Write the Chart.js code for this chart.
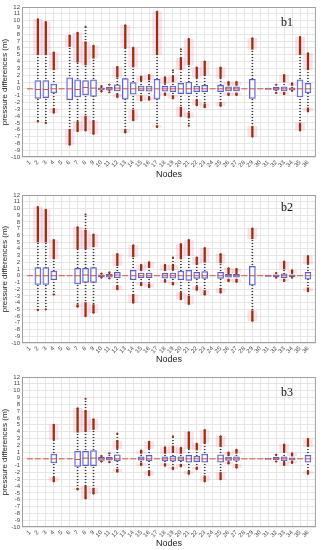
<!DOCTYPE html>
<html>
<head>
<meta charset="utf-8">
<script src="https://cdn.jsdelivr.net/npm/chart.js@4.4.1/dist/chart.umd.min.js"></script>
<style>
  body { margin: 0; background: #fff; }
  #wrap { position: relative; width: 323px; height: 550px; overflow: hidden; }
  .panel { position: absolute; left: 0; width: 323px; }
  .tag { position: absolute; font-family: "Liberation Serif", serif; font-size: 12px; color: #111; }
</style>
</head>
<body>
<div id="wrap">
  <div class="panel" style="top:0;height:180px"><canvas id="c1"></canvas></div>
  <div class="panel" style="top:183px;height:182px"><canvas id="c2"></canvas></div>
  <div class="panel" style="top:365px;height:184px"><canvas id="c3"></canvas></div>
  <div class="tag" style="left:281px;top:15px">b1</div>
  <div class="tag" style="left:281px;top:200px">b2</div>
  <div class="tag" style="left:281px;top:385px">b3</div>
</div>
<script>
// node numbers on the x axis
const nodes = Array.from({ length: 36 }, (_, i) => i + 1);

// panel b1: box quartiles, median, outlier clusters (upper lo/hi, lower hi/lo)
const b1Q1  = [0,-1.4,-1.3,-0.6,0,-1.6,-1.2,-0.9,-1.1,-0.15,-0.2,-0.3,-1.5,-0.8,-0.3,-0.35,-1.5,-0.35,-0.4,-0.7,-0.7,-0.4,-0.4,0,-0.4,-0.3,-0.3,0,-1.4,0,-0.1,-0.2,-0.3,-0.15,-1.2,-0.6];
const b1Med = [0,-0.1,-0.1,0,0,0,-0.1,0.2,0.1,0,0,0.1,0,0,0,0,0,0,0,0,0,0,0,0,0,0,0,0,0,0,0,0,0,0,0,0];
const b1Q3  = [0,1.2,1.2,0.7,0,1.6,1.3,1.2,1.3,0.15,0.2,0.6,1.5,0.9,0.4,0.4,1.4,0.35,0.4,0.8,1.0,0.4,0.5,0,0.5,0.3,0.3,0,1.4,0,0.1,0.2,0.3,0.15,1.3,0.8];
const b1UpLo = [null,5.0,5.0,2.8,null,6.2,3.9,3.5,4.5,0.4,0.6,1.7,6.0,3.2,1.2,1.3,5.0,0.8,1.0,2.8,3.5,1.6,2.0,null,1.6,0.5,0.5,null,5.8,null,null,0.6,1.0,0.5,5.0,2.8];
const b1UpHi = [null,10.2,9.8,5.3,null,7.8,8.2,6.8,6.3,0.4,0.6,3.2,9.3,6.0,1.8,2.0,11.3,1.7,1.8,4.5,7.3,3.1,4.0,null,3.1,1.0,1.0,null,7.4,null,null,0.6,2.0,0.8,7.6,5.2];
const b1DnHi = [null,-4.8,-5.0,-2.9,null,-6.0,-4.8,-4.0,-4.7,-0.4,-0.5,-0.8,-6.0,-3.1,-1.0,-1.2,-5.4,-0.6,-1.0,-2.7,-3.5,-1.6,-2.2,null,-2.0,-0.6,-0.6,null,-5.5,null,null,-0.6,-0.5,-0.3,-5.0,-2.8];
const b1DnLo = [null,-4.8,-5.0,-3.5,null,-8.2,-6.2,-6.1,-6.6,-0.4,-0.5,-1.2,-6.4,-4.6,-1.7,-1.6,-5.6,-0.9,-1.4,-4.0,-4.2,-2.4,-2.7,null,-2.5,-0.9,-0.9,null,-7.0,null,null,-0.6,-0.8,-0.3,-6.1,-3.3];
const b1Extra = [[8, 9.1], [19, 2.7], [20, 5.8], [21, -5.4]];

// panel b2
const b2Q1  = [0,-1.3,-1.3,-0.6,0,0,-1.2,-1.0,-1.0,-0.15,-0.2,-0.3,0,-0.6,-0.3,-0.3,0,-0.35,-0.35,-0.6,-0.7,-0.4,-0.4,0,-0.4,-0.2,-0.2,0,-1.4,0,-0.1,-0.15,-0.3,-0.15,0,-0.5];
const b2Med = [0,0,0,0,0,0,0,0.1,0,0,0,0.1,0,0,0,0,0,0,0,0,0,0,0,0,0,0,0,0,0,0,0,0,0,0,0,0];
const b2Q3  = [0,1.2,1.2,0.7,0,0,1.1,1.1,1.2,0.15,0.2,0.5,0,0.8,0.4,0.4,0,0.35,0.4,0.7,0.8,0.5,0.6,0,0.5,0.2,0.2,0,1.4,0,0.1,0.15,0.3,0.15,0,0.5];
const b2UpLo = [null,5.0,5.0,2.5,null,null,4.0,4.0,4.3,0.3,0.5,1.5,null,2.8,0.8,1.2,null,0.8,0.9,2.5,3.0,1.7,2.0,null,1.9,0.4,0.4,null,5.5,null,null,0.4,1.0,0.4,null,1.8];
const b2UpHi = [null,10.2,9.8,5.3,null,null,7.2,6.7,6.1,0.3,0.5,3.2,null,4.5,1.6,2.0,null,1.6,1.6,4.7,5.3,2.7,4.1,null,3.2,1.1,1.0,null,7.0,null,null,0.4,2.1,0.8,null,2.9];
const b2DnHi = [null,-5.0,-5.0,-2.8,null,null,-4.3,-4.0,-4.3,-0.3,-0.4,-1.5,null,-2.8,-1.0,-1.2,null,-0.7,-1.0,-2.5,-3.0,-1.6,-2.2,null,-1.9,-0.5,-0.5,null,-5.2,null,null,-0.3,-0.5,-0.3,null,-1.8];
const b2DnLo = [null,-5.1,-5.0,-2.8,null,null,-4.6,-6.0,-5.5,-0.3,-0.4,-2.0,null,-4.0,-1.4,-1.7,null,-0.9,-1.3,-3.5,-4.2,-2.1,-2.8,null,-2.5,-0.8,-0.9,null,-6.7,null,null,-0.3,-0.8,-0.3,null,-2.3];
const b2Extra = [[8, 9.1], [19, 2.7]];

// panel b3
const b3Q1  = [0,0,0,-0.6,0,0,-1.1,-1.0,-1.0,-0.25,-0.2,-0.3,0,0,-0.2,-0.3,0,-0.3,-0.35,-0.3,-0.5,-0.4,-0.5,0,-0.5,-0.25,-0.25,0,0,0,-0.1,-0.15,-0.3,-0.15,0,-0.5];
const b3Med = [0,0,0,0,0,0,-0.1,0.1,0.1,0,0,0,0,0,0,0,0,0,0,0,0,0,0,0,0,0,0,0,0,0,0,0,0,0,0,0];
const b3Q3  = [0,0,0,0.7,0,0,1.1,1.1,1.2,0.2,0.2,0.6,0,0,0.3,0.5,0,0.3,0.4,0.3,0.5,0.4,0.7,0,0.6,0.25,0.3,0,0,0,0.1,0.2,0.3,0.15,0,0.5];
const b3UpLo = [null,null,null,2.8,null,null,3.9,4.0,4.3,0.4,0.8,1.5,null,null,0.8,1.5,null,0.8,0.9,0.8,1.5,1.3,2.3,null,1.8,0.5,0.8,null,null,null,null,0.6,1.0,0.4,null,1.8];
const b3UpHi = [null,null,null,5.0,null,null,7.4,7.0,5.8,0.4,0.8,2.6,null,null,1.2,2.5,null,1.7,1.8,1.6,3.9,2.2,4.2,null,3.3,0.9,1.3,null,null,null,null,0.6,2.1,0.8,null,2.9];
const b3DnHi = [null,null,null,-2.7,null,null,-4.3,-4.0,-4.3,-0.4,-0.5,-1.5,null,null,-0.6,-1.8,null,-0.7,-1.2,-0.8,-1.8,-1.2,-2.5,null,-2.0,-0.5,-0.8,null,null,null,null,-0.4,-0.5,-0.3,null,-1.8];
const b3DnLo = [null,null,null,-3.3,null,null,-4.5,-5.8,-5.1,-0.4,-0.5,-1.9,null,null,-0.9,-2.4,null,-1.0,-1.5,-1.1,-2.2,-1.5,-3.3,null,-3.0,-0.7,-1.3,null,null,null,null,-0.4,-0.9,-0.6,null,-2.2];
const b3Extra = [[8, 8.8], [12, 3.7], [19, 3.3]];

const BOX = '#5a5ac8';
const MED = '#c8543c';
const OUT = '#8a3517';
const HALO = 'rgba(250,160,185,0.3)';

// dotted fill for the whiskers
const dotCanvas = document.createElement('canvas');
dotCanvas.width = 2; dotCanvas.height = 3;
const dctx = dotCanvas.getContext('2d');
dctx.fillStyle = '#333';
dctx.fillRect(0, 0, 2, 1);
const DOTTED = dctx.createPattern(dotCanvas, 'repeat');

const framePlugin = {
  id: 'frame',
  afterDraw(chart) {
    const a = chart.chartArea, ctx = chart.ctx;
    ctx.save();
    ctx.strokeStyle = '#a0a0a0';
    ctx.lineWidth = 1;
    ctx.strokeRect(a.left + 0.5, a.top + 0.5, a.right - a.left - 1, a.bottom - a.top - 1);
    ctx.restore();
  }
};

function boxPlot(id, q1, med, q3, upLo, upHi, dnHi, dnLo, extra, padTop, xHeight) {
  const boxes = [], medians = [], whiskers = [], clusters = [], dots = [];
  nodes.forEach((n, i) => {
    medians.push({ x: n, y: med[i] });
    if (q3[i] > q1[i]) boxes.push({ x: n, y: [q1[i], q3[i]] });
    if (upLo[i] !== null) {
      if (upLo[i] > q3[i]) whiskers.push({ x: n, y: [q3[i], upLo[i]] });
      clusters.push({ x: n, y: [upLo[i], upHi[i]] });
      dots.push({ x: n, y: upHi[i] });
    }
    if (dnHi[i] !== null) {
      if (dnHi[i] < q1[i]) whiskers.push({ x: n, y: [dnHi[i], q1[i]] });
      clusters.push({ x: n, y: [dnLo[i], dnHi[i]] });
      dots.push({ x: n, y: dnLo[i] });
    }
  });
  extra.forEach(p => {
    const from = p[1] > 0 ? upHi[p[0] - 1] : dnLo[p[0] - 1];
    whiskers.push({ x: p[0], y: [Math.min(from, p[1]), Math.max(from, p[1])] });
    dots.push({ x: p[0], y: p[1] });
  });

  new Chart(document.getElementById(id), {
    type: 'bar',
    data: {
      datasets: [
        { type: 'bar', data: clusters, grouped: false, barThickness: 9, backgroundColor: HALO, borderWidth: 0, order: 6 },
        { type: 'bar', data: whiskers, grouped: false, barThickness: 1, backgroundColor: DOTTED, borderWidth: 0, order: 5 },
        { type: 'bar', data: boxes, grouped: false, barThickness: 6, backgroundColor: 'rgba(255,255,255,0.6)', borderColor: BOX, borderWidth: 1, borderSkipped: false, order: 3 },
        { type: 'bar', data: clusters, grouped: false, barThickness: 1.6, backgroundColor: OUT, borderWidth: 0, order: 2 },
        { type: 'scatter', data: dots, pointRadius: 1.1, backgroundColor: OUT, borderWidth: 0, order: 1 },
        { type: 'scatter', data: medians, pointStyle: 'line', pointRadius: 3, borderColor: MED, borderWidth: 1, order: 0 }
      ]
    },
    options: {
      responsive: true,
      maintainAspectRatio: false,
      animation: false,
      layout: { padding: { top: padTop, right: 7, left: 0, bottom: 0 } },
      plugins: { legend: { display: false }, tooltip: { enabled: false } },
      scales: {
        x: {
          type: 'linear', min: 0, max: 37, offset: false,
          afterFit: s => { s.height = xHeight; },
          grid: { color: '#e6e6e6', drawTicks: false, offset: false },
          border: { display: false },
          ticks: {
            stepSize: 1, autoSkip: false, maxRotation: 45, minRotation: 45, padding: 2,
            font: { family: 'Liberation Sans', size: 6 }, color: '#444',
            callback: v => (v >= 1 && v <= 36) ? String(v) : ''
          },
          title: { display: true, text: 'Nodes', font: { family: 'Liberation Sans', size: 9 }, color: '#222', padding: 0 }
        },
        y: {
          min: -10, max: 12,
          afterFit: s => { s.width = 22; },
          grid: { color: '#e6e6e6', drawTicks: false },
          border: { display: false },
          ticks: { stepSize: 1, autoSkip: false, padding: 2, font: { family: 'Liberation Sans', size: 6 }, color: '#444' },
          title: { display: true, text: 'pressure differences (m)', font: { family: 'Liberation Sans', size: 8 }, color: '#222', padding: 0 }
        }
      }
    },
    plugins: [framePlugin]
  });
}

boxPlot('c1', b1Q1, b1Med, b1Q3, b1UpLo, b1UpHi, b1DnHi, b1DnLo, b1Extra, 7, 23);
boxPlot('c2', b2Q1, b2Med, b2Q3, b2UpLo, b2UpHi, b2DnHi, b2DnLo, b2Extra, 12, 22);
boxPlot('c3', b3Q1, b3Med, b3Q3, b3UpLo, b3UpHi, b3DnHi, b3DnLo, b3Extra, 12, 22);
</script>
</body>
</html>
